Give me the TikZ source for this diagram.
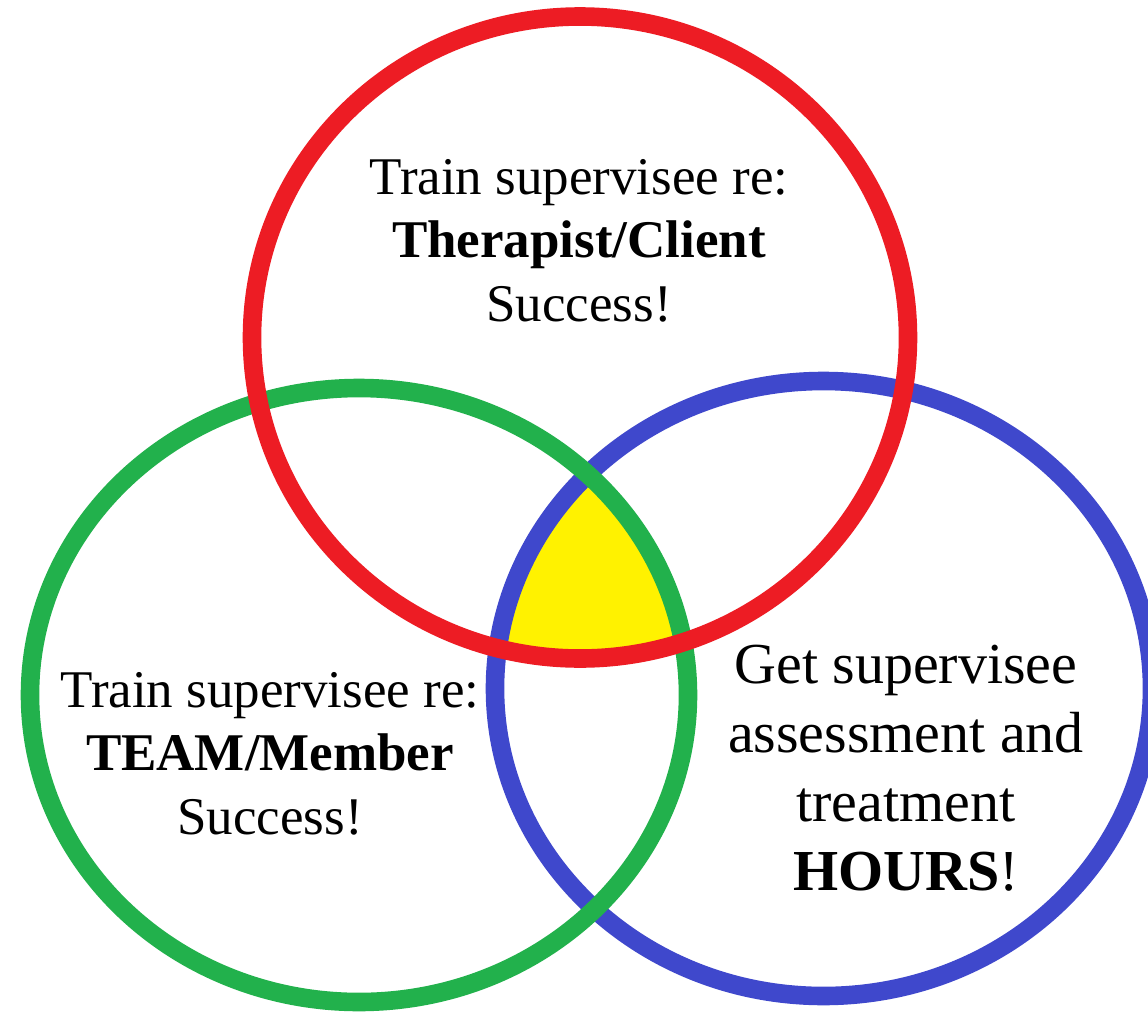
\documentclass[tikz,border=0pt]{standalone}
\usepackage{fontspec}
\setmainfont{Liberation Serif}
\definecolor{ringred}{RGB}{237,28,36}
\definecolor{ringgreen}{RGB}{34,177,76}
\definecolor{ringblue}{RGB}{63,72,204}
\definecolor{coreyellow}{RGB}{255,242,0}
\tikzset{
  ring/.style={line width=9.3pt},
  smalltext/.style={align=center, font=\fontsize{26.5pt}{31.75pt}\selectfont},
  bigtext/.style={align=center, font=\fontsize{29pt}{34.5pt}\selectfont},
}
\begin{document}
\begin{tikzpicture}[x=0.5pt,y=-0.5pt]
\useasboundingbox (0,0) rectangle (1148,1013);
\fill[white] (0,0) rectangle (1148,1013);
% centres of the three rings
\coordinate (cr) at (580,337.5);
\coordinate (cg) at (359,695);
\coordinate (cb) at (823.5,688.5);
% common region of all three rings
\begin{scope}
  \clip (cr) ellipse [x radius=328, y radius=321];
  \clip (cg) ellipse [x radius=329, y radius=307];
  \fill[coreyellow] (cb) ellipse [x radius=328.5, y radius=307.5];
\end{scope}
% rings
\draw[ring, ringblue]  (cb) ellipse [x radius=328.5, y radius=307.5];
\draw[ring, ringgreen] (cg) ellipse [x radius=329, y radius=307];
\draw[ring, ringred]   (cr) ellipse [x radius=328, y radius=321];
% labels
\node[smalltext] (tclient) at (579,240.5) {Train supervisee re:\\\textbf{Therapist/Client}\\Success!};
\node[smalltext] (tteam) at (270,753.5) {Train supervisee re:\\\textbf{TEAM/Member}\\Success!};
\node[bigtext] (thours) at (906,768) {Get supervisee\\assessment and\\treatment\\\textbf{HOURS}!};
\end{tikzpicture}
\end{document}
